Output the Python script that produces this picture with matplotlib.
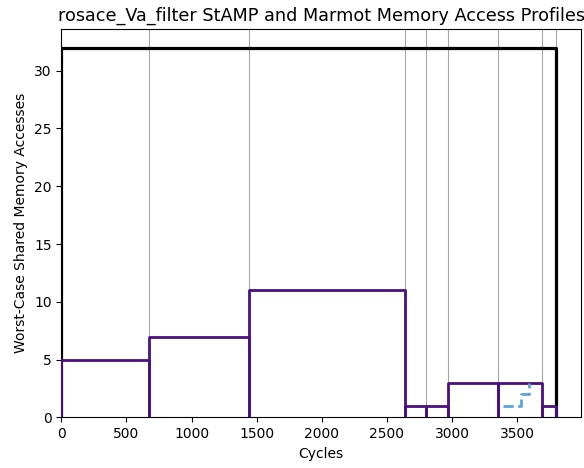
import matplotlib.pyplot as plt

# Marmot segments (start cycle, end cycle, worst-case accesses)
seg_starts = [0, 673, 1438, 2640, 2800, 2969, 3351, 3688]
seg_ends = [673, 1438, 2640, 2800, 2969, 3351, 3688, 3800]
seg_accesses = [5, 7, 11, 1, 1, 3, 3, 1]

# StAMP single-box bound
stamp_end = 3800
stamp_accesses = 32

# small dashed profile
dash_x = [3390, 3525, 3525, 3590, 3590]
dash_y = [1, 1, 2, 2, 3]

fig, ax = plt.subplots(figsize=(5.84, 4.68), dpi=100)

for b in seg_starts + [stamp_end]:
    ax.axvline(b, color="gray", lw=0.8, alpha=0.7, zorder=1)

ax.plot([0, 0, stamp_end, stamp_end], [0, stamp_accesses, stamp_accesses, 0],
        color="black", lw=2.3, zorder=3)

for s, e, h in zip(seg_starts, seg_ends, seg_accesses):
    ax.plot([s, s, e, e], [0, h, h, 0], color="#4b0f7f", lw=2, zorder=4)

ax.plot(dash_x, dash_y, color="#5ba3dc", lw=2, ls="--", zorder=5)

ax.set_xlim(0, stamp_end * 1.05)
ax.set_ylim(0, stamp_accesses * 1.05)
ax.set_xlabel("Cycles")
ax.set_ylabel("Worst-Case Shared Memory Accesses")
ax.set_title("rosace_Va_filter StAMP and Marmot Memory Access Profiles", fontsize=12.7)

fig.subplots_adjust(left=0.105, right=0.995, bottom=0.108, top=0.938)
fig.savefig("out.png", dpi=100)
